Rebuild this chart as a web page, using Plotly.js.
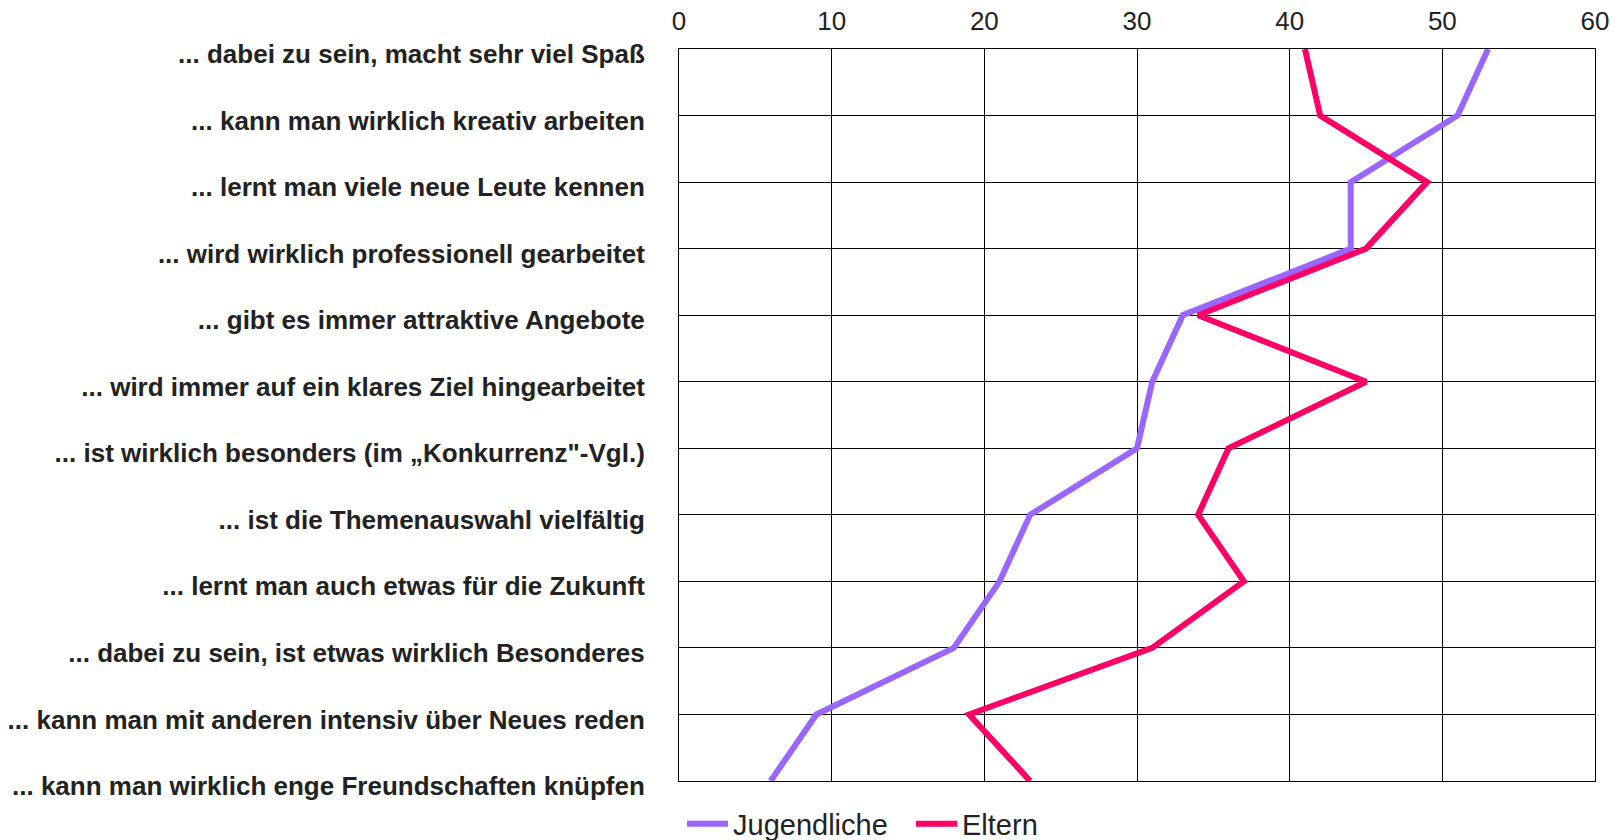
<!DOCTYPE html>
<html>
<head>
<meta charset="utf-8">
<script src="https://cdn.plot.ly/plotly-3.0.1.min.js"></script>
<style>html,body{margin:0;padding:0;background:#fff;overflow:hidden;}#chart{width:1623px;height:860px;}</style>
</head>
<body>
<div id="chart"></div>
<script>
var categories = [
  "... dabei zu sein, macht sehr viel Spaß",
  "... kann man wirklich kreativ arbeiten",
  "... lernt man viele neue Leute kennen",
  "... wird wirklich professionell gearbeitet",
  "... gibt es immer attraktive Angebote",
  "... wird immer auf ein klares Ziel hingearbeitet",
  "... ist wirklich besonders (im „Konkurrenz\"-Vgl.)",
  "... ist die Themenauswahl vielfältig",
  "... lernt man auch etwas für die Zukunft",
  "... dabei zu sein, ist etwas wirklich Besonderes",
  "... kann man mit anderen intensiv über Neues reden",
  "... kann man wirklich enge Freundschaften knüpfen"
];
var jugendliche = [53, 51, 44, 44, 33, 31, 30, 23, 21, 18, 9, 6];
var eltern = [41, 42, 49, 45, 34, 45, 36, 34, 37, 31, 19, 23];
var xTicks = [0, 10, 20, 30, 40, 50, 60];

var traces = [
  {type: 'scatter', mode: 'lines', name: 'Jugendliche', x: jugendliche, y: categories,
   line: {color: '#9966FF', width: 6}},
  {type: 'scatter', mode: 'lines', name: 'Eltern', x: eltern, y: categories,
   line: {color: '#FF0066', width: 6}}
];

var layout = {
  width: 1623, height: 860,
  margin: {l: 679, r: 28, t: 49, b: 78, pad: 0},
  paper_bgcolor: '#ffffff', plot_bgcolor: '#ffffff',
  font: {family: 'Liberation Sans, Arial, sans-serif', color: '#222222'},
  showlegend: true,
  legend: {orientation: 'h', xref: 'paper', yref: 'paper',
           x: 0.0033, xanchor: 'left', y: -0.057, yanchor: 'middle',
           font: {size: 29, color: '#222222'}, itemwidth: 41,
           entrywidth: 173, entrywidthmode: 'pixels', tracegroupgap: 0},
  xaxis: {
    side: 'top', range: [0, 60], tickvals: xTicks, ticktext: xTicks.map(String),
    showgrid: true, gridcolor: '#000000', gridwidth: 1,
    showline: true, linecolor: '#000000', linewidth: 1, mirror: true,
    ticks: '', zeroline: false, ticklabelstandoff: 8,
    tickfont: {size: 26, color: '#222222'}
  },
  yaxis: {
    type: 'category', categoryorder: 'array', categoryarray: categories,
    range: [11, 0], autorange: false,
    showgrid: true, gridcolor: '#000000', gridwidth: 1,
    showline: true, linecolor: '#000000', linewidth: 1, mirror: true,
    ticks: '', zeroline: false, ticklabelstandoff: 28, ticklabelshift: -5,
    tickfont: {size: 26, color: '#222222', weight: 'bold'}
  }
};

Plotly.newPlot('chart', traces, layout, {displayModeBar: false, responsive: false});
</script>
</body>
</html>
